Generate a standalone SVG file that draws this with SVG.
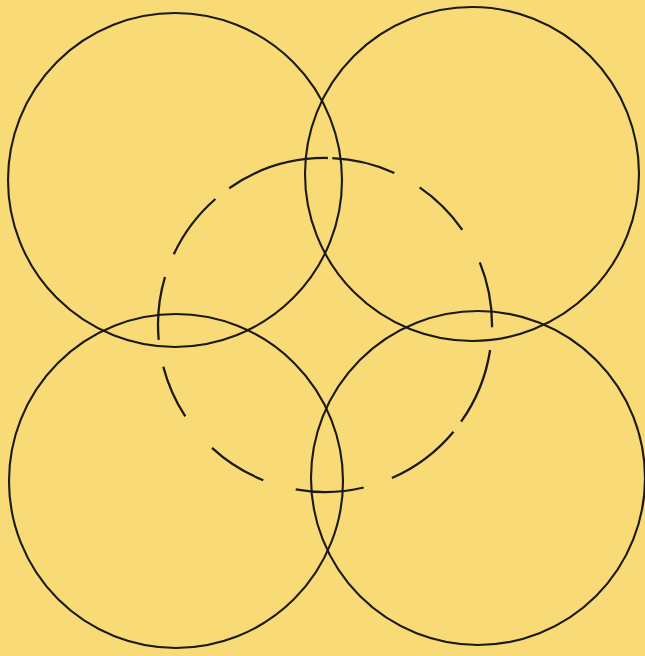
<svg xmlns="http://www.w3.org/2000/svg" width="645" height="656" viewBox="0 0 645 656">
  <style>
    .ring { fill: none; stroke: #1c1a17; stroke-width: 2.1; }
    .dash { fill: none; stroke: #1c1a17; stroke-width: 2.3; stroke-linecap: butt; }
  </style>
  <rect x="0" y="0" width="645" height="656" fill="#F8DB77"/>
  <g id="circle-top-left"><circle class="ring" cx="175" cy="180" r="167"/></g>
  <g id="circle-top-right"><circle class="ring" cx="472" cy="174" r="167"/></g>
  <g id="circle-bottom-left"><circle class="ring" cx="176" cy="481" r="167"/></g>
  <g id="circle-bottom-right"><circle class="ring" cx="478" cy="478" r="167"/></g>
  <g id="circle-inner-broken">
    <path class="dash" d="M229.2,188.2 A167,167 0 0 1 327.9,158.0
      M332.3,158.2 A167,167 0 0 1 394.3,173.0
      M419.6,187.4 A167,167 0 0 1 462.3,229.9
      M479.8,262.4 A167,167 0 0 1 492.0,327.3
      M490.1,350.0 A167,167 0 0 1 461.1,421.7
      M453.5,431.7 A167,167 0 0 1 391.9,478.0
      M363.7,487.5 A167,167 0 0 1 295.7,489.4
      M263.3,480.2 A167,167 0 0 1 212.0,447.9
      M185.3,416.4 A167,167 0 0 1 163.3,366.8
      M158.7,339.8 A167,167 0 0 1 165.0,277.0
      M173.8,254.2 A167,167 0 0 1 215.4,199.0"/>
  </g>
</svg>
